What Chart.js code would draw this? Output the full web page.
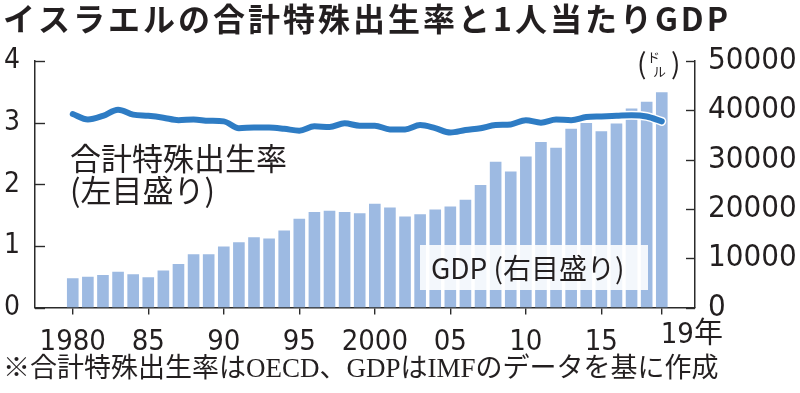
<!DOCTYPE html>
<html>
<head>
<meta charset="utf-8">
<script src="https://cdn.jsdelivr.net/npm/chart.js@4.4.1/dist/chart.umd.min.js"></script>
<style>
  html, body { margin: 0; padding: 0; background: #ffffff; }
  #wrap { width: 800px; height: 393px; }
</style>
</head>
<body>
<div id="wrap"><canvas id="myChart" width="800" height="393"></canvas></div>
<script>
// datos
const years = [1980, 1981, 1982, 1983, 1984, 1985, 1986, 1987, 1988, 1989,
               1990, 1991, 1992, 1993, 1994, 1995, 1996, 1997, 1998, 1999,
               2000, 2001, 2002, 2003, 2004, 2005, 2006, 2007, 2008, 2009,
               2010, 2011, 2012, 2013, 2014, 2015, 2016, 2017, 2018, 2019];
const gdpPerCapita = [5940, 6260, 6600, 7250, 6750, 6140, 7480, 8840, 10800, 10800,
                      12360, 13250, 14270, 14000, 15610, 18000, 19350, 19610, 19350, 19100,
                      21040, 20290, 18460, 18940, 19880, 20490, 21850, 24840, 29570, 27600,
                      30650, 33580, 32420, 36280, 37440, 35730, 37300, 40350, 41710, 43660];
const fertilityRate = [3.14, 3.05, 3.11, 3.21, 3.13, 3.11, 3.08, 3.04, 3.05, 3.03,
                       3.02, 2.91, 2.92, 2.92, 2.90, 2.87, 2.94, 2.93, 2.99, 2.95,
                       2.95, 2.89, 2.89, 2.96, 2.91, 2.84, 2.88, 2.91, 2.96, 2.97,
                       3.04, 3.00, 3.05, 3.04, 3.09, 3.10, 3.11, 3.12, 3.10, 3.02];
const xTickYears = [1980, 1985, 1990, 1995, 2000, 2005, 2010, 2015, 2019];
const xTickLabels = ['1980', '85', '90', '95', '2000', '05', '10', '15', '19年'];

const titleText = 'イスラエルの合計特殊出生率と1人当たりGDP';
const noteText = '※合計特殊出生率はOECD、GDPはIMFのデータを基に作成';
const leftNote = ['合計特殊出生率', '(左目盛り)'];
const rightNote = 'GDP (右目盛り)';

document.addEventListener('DOMContentLoaded', function() {
    var ctx = document.getElementById('myChart').getContext('2d');
    var textColor = '#231f20';
    var axisColor = '#2b2b2b';
    var numFont = '"DejaVu Sans Condensed", "DejaVu Sans", sans-serif';
    var jpFont = '"Noto Sans CJK JP", sans-serif';

    var barPoints = years.map(function(y, i) { return {x: y, y: gdpPerCapita[i]}; });
    var linePoints = years.map(function(y, i) { return {x: y, y: fertilityRate[i]}; });

    // textos, marcas interiores de los ejes y etiqueta final
    var extras = {
        id: 'extras',
        afterDraw: function(chart) {
            var c = chart.ctx;
            var area = chart.chartArea;
            var yL = chart.scales.y;
            var yR = chart.scales.y1;
            var xS = chart.scales.x;
            c.save();
            c.strokeStyle = axisColor;
            c.lineWidth = 1.4;
            yL.ticks.forEach(function(t) {
                var py = Math.round(yL.getPixelForValue(t.value)) + 0.5;
                c.beginPath(); c.moveTo(area.left, py); c.lineTo(area.left + 10, py); c.stroke();
            });
            yR.ticks.forEach(function(t) {
                var py = Math.round(yR.getPixelForValue(t.value)) + 0.5;
                c.beginPath(); c.moveTo(area.right, py); c.lineTo(area.right - 9, py); c.stroke();
            });

            c.fillStyle = textColor;
            c.textBaseline = 'middle';
            c.textAlign = 'left';

            // titulo
            c.font = 'bold 32px ' + jpFont;
            c.letterSpacing = '3px';
            c.fillText(titleText, 3, 19);
            c.letterSpacing = '0px';

            // nota al pie
            c.font = '27px "Liberation Serif", ' + jpFont;
            c.fillText(noteText, 3, 370);

            // etiqueta de la linea
            c.font = '31px ' + jpFont;
            c.fillText(leftNote[0], 70, 158);
            c.fillText(leftNote[1], 70, 190);

            // etiqueta de las barras
            c.fillStyle = 'rgba(255,255,255,0.88)';
            c.fillRect(420, 245, 228, 45);
            c.fillStyle = textColor;
            c.font = '28px ' + jpFont;
            c.fillText(rightNote, 431, 268);

            // unidad
            c.font = '28px ' + jpFont;
            c.fillText('(', 637, 63);
            c.fillText(')', 671, 63);
            c.font = '13px ' + jpFont;
            c.fillText('ド', 647, 57);
            c.fillText('ル', 653, 71);

            // ultima etiqueta del eje x, alineada a la izquierda
            var last = xTickYears.length - 1;
            c.font = '29px ' + numFont + ', ' + jpFont;
            c.fillText(xTickLabels[last], xS.getPixelForValue(xTickYears[last]) - 1, 335);
            c.restore();
        }
    };

    new Chart(ctx, {
        type: 'bar',
        data: {
            datasets: [{
                type: 'line',
                data: linePoints,
                yAxisID: 'y',
                borderColor: '#2e7cc4',
                borderWidth: 6,
                borderCapStyle: 'round',
                tension: 0.4,
                cubicInterpolationMode: 'monotone',
                pointRadius: 0,
                order: 0
            }, {
                type: 'line',
                data: linePoints,
                yAxisID: 'y',
                borderColor: '#ffffff',
                borderWidth: 9,
                borderCapStyle: 'round',
                tension: 0.4,
                cubicInterpolationMode: 'monotone',
                pointRadius: 0,
                order: 1
            }, {
                type: 'bar',
                data: barPoints,
                yAxisID: 'y1',
                backgroundColor: '#9dbae2',
                categoryPercentage: 1,
                barPercentage: 0.77,
                order: 2
            }]
        },
        options: {
            responsive: false,
            animation: false,
            layout: { padding: { top: 61, bottom: 39, left: 0, right: 0 } },
            plugins: {
                legend: { display: false },
                tooltip: { enabled: false }
            },
            scales: {
                x: {
                    type: 'linear',
                    min: 1977.5,
                    max: 2021.2,
                    offset: false,
                    afterBuildTicks: function(scale) {
                        scale.ticks = xTickYears.map(function(v) { return {value: v}; });
                    },
                    afterFit: function(scale) { scale.height = 46.5; },
                    ticks: {
                        autoSkip: false,
                        maxRotation: 0,
                        padding: 11,
                        color: textColor,
                        font: { family: numFont, size: 29 },
                        callback: function(value) {
                            var i = xTickYears.indexOf(value);
                            // la ultima se dibuja aparte
                            if (i < 0 || i === xTickYears.length - 1) return '';
                            return xTickLabels[i];
                        }
                    },
                    grid: { display: true, drawOnChartArea: false, offset: false, tickLength: 7, color: axisColor, lineWidth: 1.4 },
                    border: { display: true, color: axisColor, width: 1.5 }
                },
                y: {
                    position: 'left',
                    min: 0,
                    max: 4,
                    afterFit: function(scale) { scale.width = 35; },
                    ticks: {
                        stepSize: 1,
                        padding: 7,
                        color: textColor,
                        font: { family: numFont, size: 28 }
                    },
                    grid: { display: false },
                    border: { display: true, color: axisColor, width: 1.5 }
                },
                y1: {
                    position: 'right',
                    min: 0,
                    max: 50000,
                    afterFit: function(scale) { scale.width = 105; },
                    ticks: {
                        stepSize: 10000,
                        padding: 5,
                        color: textColor,
                        font: { family: numFont, size: 31 },
                        callback: function(value) { return String(value); }
                    },
                    grid: { display: false },
                    border: { display: true, color: axisColor, width: 1.5 }
                }
            }
        },
        plugins: [extras]
    });
});
</script>
</body>
</html>
